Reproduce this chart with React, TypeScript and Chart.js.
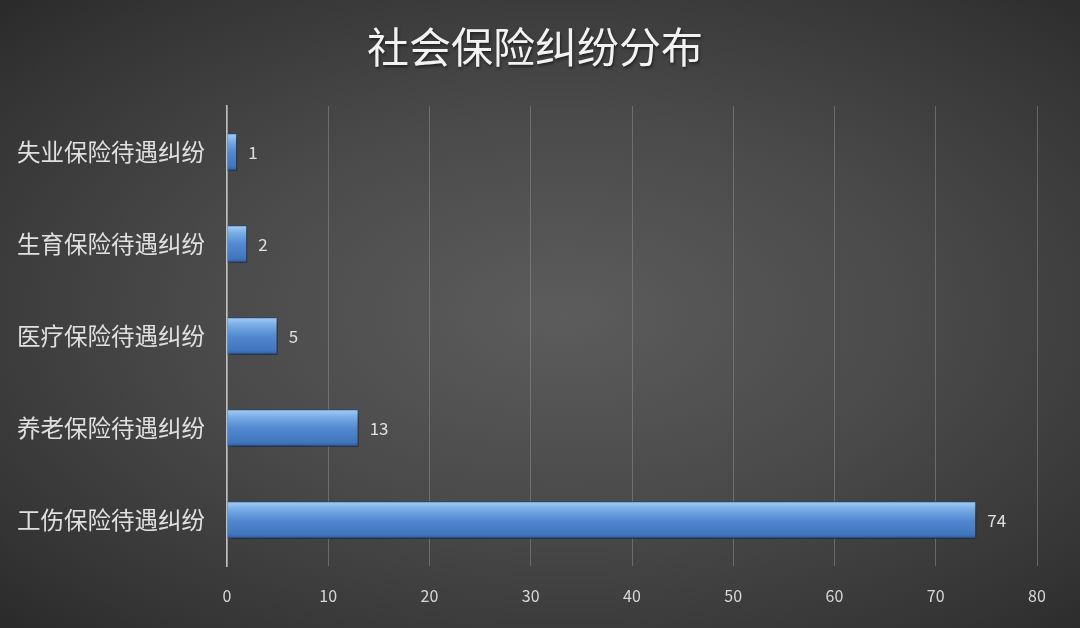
import React, { useEffect, useRef } from "react";
import { Chart, registerables } from "chart.js";

Chart.register(...registerables);

const categories = ["失业保险待遇纠纷", "生育保险待遇纠纷", "医疗保险待遇纠纷", "养老保险待遇纠纷", "工伤保险待遇纠纷"];
const values = [1, 2, 5, 13, 74];
const titleText = "社会保险纠纷分布";
const xMin = 0;
const xMax = 80;
const xStep = 10;

const FONT = "'Noto Sans CJK SC', 'Noto Sans', sans-serif";

const titlePlugin = {
  id: "centerTitle",
  afterDraw(chart: any) {
    const ctx = chart.ctx;
    ctx.save();
    ctx.fillStyle = "#f2f2f2";
    ctx.font = `42px ${FONT}`;
    ctx.textAlign = "center";
    ctx.textBaseline = "middle";
    ctx.shadowColor = "rgba(0,0,0,0.5)";
    ctx.shadowBlur = 3;
    ctx.shadowOffsetX = 1;
    ctx.shadowOffsetY = 2;
    ctx.fillText(titleText, 535, 47);
    ctx.restore();
  },
};

const dataLabelPlugin = {
  id: "dataLabels",
  afterDatasetsDraw(chart: any) {
    const ctx = chart.ctx;
    const meta = chart.getDatasetMeta(0);
    ctx.save();
    ctx.fillStyle = "#e0e0e0";
    ctx.font = `17px ${FONT}`;
    ctx.textAlign = "left";
    ctx.textBaseline = "middle";
    meta.data.forEach((el: any, i: number) => {
      ctx.fillText(String(values[i]), el.x + 11, el.y + 1);
    });
    ctx.restore();
  },
};

const shadowPlugin = {
  id: "barShadow",
  beforeDatasetsDraw(chart: any) {
    const ctx = chart.ctx;
    ctx.save();
    ctx.shadowColor = "rgba(0,0,0,0.55)";
    ctx.shadowBlur = 6;
    ctx.shadowOffsetX = 2;
    ctx.shadowOffsetY = 3;
  },
  afterDatasetsDraw(chart: any) {
    chart.ctx.restore();
  },
};

export default function App() {
  const ref = useRef<HTMLCanvasElement>(null);
  useEffect(() => {
    if (!ref.current) return;
    const barHalf = 19;
    const chart = new Chart(ref.current, {
      type: "bar",
      data: {
        labels: categories,
        datasets: [
          {
            data: values,
            backgroundColor: (c: any) => {
              const chartObj = c.chart;
              const ys = chartObj.scales?.y;
              if (!ys || c.dataIndex === undefined) return "#4f86cc";
              const cy = ys.getPixelForValue(c.dataIndex);
              if (!Number.isFinite(cy)) return "#4f86cc";
              const g = chartObj.ctx.createLinearGradient(0, cy - barHalf, 0, cy + barHalf);
              g.addColorStop(0, "#a6cff6");
              g.addColorStop(0.22, "#78ace6");
              g.addColorStop(0.5, "#5289d0");
              g.addColorStop(0.88, "#4176bd");
              g.addColorStop(1, "#2d5691");
              return g;
            },
            borderColor: "#2a4f86",
            borderWidth: 1,
            barPercentage: 0.41,
            categoryPercentage: 1,
          },
        ],
      },
      options: {
        indexAxis: "y",
        responsive: false,
        animation: false,
        layout: { padding: { left: 0, right: 43, top: 106, bottom: 0 } },
        plugins: {
          legend: { display: false },
          tooltip: { enabled: false },
          title: { display: false },
        },
        scales: {
          x: {
            min: xMin,
            max: xMax,
            afterFit: (s: any) => {
              s.height = 62;
              s.paddingLeft = 0;
              s.paddingRight = 0;
            },
            ticks: {
              stepSize: xStep,
              color: "#d8d8d8",
              font: { family: FONT, size: 16 },
              padding: 20,
            },
            grid: {
              color: "rgba(140,140,140,0.55)",
              lineWidth: 1,
              drawTicks: false,
            },
            border: { display: false },
          },
          y: {
            afterFit: (s: any) => {
              s.width = 227;
              s.paddingTop = 0;
              s.paddingBottom = 0;
            },
            ticks: {
              color: "#e0e0e0",
              font: { family: FONT, size: 23.5 },
              padding: 22,
            },
            grid: { display: false, drawTicks: false },
            border: { display: true, color: "#c0c0c0", width: 1.5 },
          },
        },
      },
      plugins: [shadowPlugin, dataLabelPlugin, titlePlugin],
    } as any);
    return () => chart.destroy();
  }, []);
  return (
    <div
      style={{
        position: "fixed",
        left: 0,
        top: 0,
        width: 1080,
        height: 628,
        background: "radial-gradient(ellipse at 52% 50%, #5c5c5c 0%, #4a4a4a 45%, #343434 85%, #2a2a2a 100%)",
      }}
    >
      <canvas ref={ref} width={1080} height={628} style={{ display: "block" }} />
    </div>
  );
}
